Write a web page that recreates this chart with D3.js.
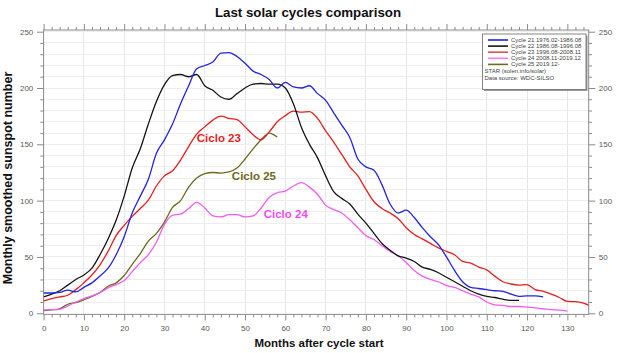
<!DOCTYPE html>
<html><head><meta charset="utf-8">
<script src="https://cdn.jsdelivr.net/npm/d3@7"></script>
<style>
body{margin:0;background:#fff}
svg{display:block}
text{font-family:"Liberation Sans",Arial,Helvetica,sans-serif}
</style>
</head><body>
<svg id="c" width="618" height="353"></svg>
<script>
// ---- DATA (monthly smoothed sunspot number, sampled every 2 months after cycle start) ----
const STEP = 2;
const cycle21 = [18,18,18.5,20.5,19,23,27,33,40,52,68,89,104,119,142,154,168,186,202,217,220,223,231,231.5,228,222,215,212,207.5,200,205,201,200,202,195,189,178,167,156,137,130,127,114,97,89,91.5,85,76,68,61,50,38,28,23,22,21,20,19.5,17,15,15.5,15.5,14.5];
const cycle22 = [14.5,17,20,25,30,34,40,52,66,82.5,104,129,146,168,188,203,211,212,210,212,202,198,192,190,195,200,203.5,204,203.5,203.5,200,186,165,150,138,122,108,102,97,88,80,71,62,56,51,49,46,41,39,36,32,28,24,20,17,15,14,12.5,11.5,11.5];
const cycle23 = [11,13,14.5,16,21,27,34,43,55,69,78,86,93,100.5,113,122,126.5,136,148,159,165.5,171.5,175,173,172,165.5,158.5,154,161,170,175.5,179.5,178.5,179,173,162,152,141,130,122,110,99,93,89,84,76,70,66,62,58,55,52,46,44.5,41,38.5,33,28,26,25,25.5,21,19.5,17,14,10.5,10.3,9,6];
const cycle24 = [3,3.2,3.5,6.5,10,13,15.5,18.3,22.5,25.5,29,37,45,52,63,79,87,88,93,98.5,93.5,86.5,85.5,87.5,87.5,85.5,86.5,93.5,103,107,108.5,113,116,112,105.5,96,92,89,83,76,69,65.5,60,55,51,45,38,33,30,28,24.5,23,20,17,14.5,10,7.5,7,6,6,5.5,4.8,4,3.2,2.8,2];
const cycle25 = [2.3,3,4,8,9.5,12,15,18.5,24,27,33.5,43.5,53,64,71,81,94,100,112,120,124,125,124.5,125.5,129,137,146,154,160,156.5];

const seriesValues = [cycle21, cycle22, cycle23, cycle24, cycle25];
const seriesNames  = ["Cycle 21 1976.02-1986.08","Cycle 22 1986.08-1996.08","Cycle 23 1996.08-2008.11","Cycle 24 2008.11-2019.12","Cycle 25 2019.12-"];
const legendNotes  = ["STAR (solen.info/solar)","Data source: WDC-SILSO"];
const cycleLabels  = ["Ciclo 23","Ciclo 25","Ciclo 24"];
const cycleLabelAt = [[43.5,152],[52.2,118.5],[60.1,85]]; // [month, value] anchor of annotation
const xMajorTicks = d3.range(0,131,10);
const xMinorTicks = d3.range(0,135,2).filter(d=>d%10!==0);
const yMajorTicks = [0,50,100,150,200,250];
const yMinorTicks = d3.range(0,251,10).filter(d=>d%50!==0);

// ---- STYLE ----
const colors = ["#2323e0","#151515","#e61e1e","#f25cf2","#6c6a1e"];
const legendColors = ["#2323e0","#151515","#e25050","#f57ef5","#6c6a1e"];
const labelColors = ["#e61e1e","#6c6a1e","#ee4cee"];

const svg = d3.select("#c");
const x = d3.scaleLinear().domain([0,135.3]).range([43.6,588.7]);
const y = d3.scaleLinear().domain([-1,251.5]).range([314.4,30]);
const X0=x.range()[0], X1=x.range()[1], Y0=y.range()[0], Y1=y.range()[1];

// grid
const grid = svg.append("g");
grid.selectAll("line.v").data(d3.range(10,135,10)).join("line").attr("class","v")
  .attr("x1",d=>x(d)).attr("x2",d=>x(d)).attr("y1",Y1).attr("y2",Y0)
  .attr("stroke","#e6e6e6").attr("stroke-width",1).attr("shape-rendering","crispEdges");
grid.selectAll("line.h").data(d3.range(10,251,10)).join("line").attr("class","h")
  .attr("x1",X0).attr("x2",X1).attr("y1",d=>y(d)).attr("y2",d=>y(d))
  .attr("stroke","#eeeeee").attr("stroke-width",1).attr("shape-rendering","crispEdges");

// axes
function styleAxis(g){
  g.select(".domain").remove();
  g.selectAll(".tick line").attr("stroke","#8a8a8a");
  g.selectAll(".tick text").attr("fill","#5a5a5a").style("font-size","8px")
   .style("font-family","'Liberation Sans',Arial,sans-serif");
}
svg.append("g").attr("transform",`translate(0,${Y0})`)
  .call(d3.axisBottom(x).tickValues(xMinorTicks).tickSize(3).tickFormat("")).call(styleAxis);
svg.append("g").attr("transform",`translate(0,${Y0})`)
  .call(d3.axisBottom(x).tickValues(xMajorTicks).tickSize(6).tickPadding(5).tickFormat(d3.format("d"))).call(styleAxis);
svg.append("g").attr("transform",`translate(0,${Y1})`)
  .call(d3.axisTop(x).tickValues(xMinorTicks).tickSize(3).tickFormat("")).call(styleAxis);
svg.append("g").attr("transform",`translate(0,${Y1})`)
  .call(d3.axisTop(x).tickValues(xMajorTicks).tickSize(6).tickFormat("")).call(styleAxis);
svg.append("g").attr("transform",`translate(${X0},0)`)
  .call(d3.axisLeft(y).tickValues(yMinorTicks).tickSize(3.3).tickFormat("")).call(styleAxis);
svg.append("g").attr("transform",`translate(${X0},0)`)
  .call(d3.axisLeft(y).tickValues(yMajorTicks).tickSize(6.6).tickPadding(3.7).tickFormat(d3.format("d"))).call(styleAxis);
svg.append("g").attr("transform",`translate(${X1},0)`)
  .call(d3.axisRight(y).tickValues(yMinorTicks).tickSize(3.3).tickFormat("")).call(styleAxis);
svg.append("g").attr("transform",`translate(${X1},0)`)
  .call(d3.axisRight(y).tickValues(yMajorTicks).tickSize(6.6).tickPadding(3.5).tickFormat(d3.format("d"))).call(styleAxis);

// frame
svg.append("rect").attr("x",X0).attr("y",Y1).attr("width",X1-X0).attr("height",Y0-Y1)
  .attr("fill","none").attr("stroke","#8a8a8a").attr("stroke-width",1);

// lines
svg.append("clipPath").attr("id","plot").append("rect")
  .attr("x",X0).attr("y",Y1).attr("width",X1-X0).attr("height",Y0-Y1);
const line = d3.line().x((d,i)=>x(i*STEP)).y(d=>y(d)).curve(d3.curveMonotoneX);
const lg = svg.append("g").attr("clip-path","url(#plot)");
// draw order: 25, 24, 23, 22, 21 underneath? keep reference look: draw 21,22 first
[4,3,2,1,0].forEach(k=>{
  lg.append("path").datum(seriesValues[k]).attr("d",line)
    .attr("fill","none").attr("stroke",colors[k]).attr("stroke-width",1.3)
    .attr("stroke-linejoin","round");
});

// annotations
svg.selectAll("text.ann").data(cycleLabels).join("text").attr("class","ann")
  .attr("x",(d,i)=>x(cycleLabelAt[i][0])).attr("y",(d,i)=>y(cycleLabelAt[i][1]))
  .attr("text-anchor","middle").attr("fill",(d,i)=>labelColors[i])
  .style("font-size","11.5px").style("font-weight","bold").text(d=>d);

// legend
const L = svg.append("g");
L.append("rect").attr("x",484).attr("y",35.5).attr("width",103.5).attr("height",55.5).attr("fill","#9a9a9a");
L.append("rect").attr("x",482.5).attr("y",34).attr("width",103.5).attr("height",55.5)
  .attr("fill","#fff").attr("stroke","#666").attr("stroke-width",0.8);
seriesNames.forEach((n,i)=>{
  const yy = 40 + i*6.1;
  L.append("line").attr("x1",488).attr("x2",508).attr("y1",yy).attr("y2",yy)
    .attr("stroke",legendColors[i]).attr("stroke-width",1.6);
  L.append("text").attr("x",511).attr("y",yy+2).attr("fill","#444")
    .style("font-size","6px").text(n);
});
legendNotes.forEach((n,i)=>{
  L.append("text").attr("x",484.5).attr("y",73 + i*6.5).attr("fill","#444")
    .style("font-size","6px").text(n);
});

// titles
svg.append("text").attr("x",308).attr("y",17).attr("text-anchor","middle")
  .style("font-size","13.3px").style("font-weight","bold").attr("fill","#111")
  .text("Last solar cycles comparison");
svg.append("text").attr("x",319).attr("y",347).attr("text-anchor","middle")
  .style("font-size","11.5px").style("font-weight","bold").attr("fill","#111")
  .text("Months after cycle start");
svg.append("text").attr("transform","translate(11.5,178) rotate(-90)").attr("text-anchor","middle")
  .style("font-size","12.5px").style("font-weight","bold").attr("fill","#111")
  .text("Monthly smoothed sunspot number");
</script>
</body></html>
